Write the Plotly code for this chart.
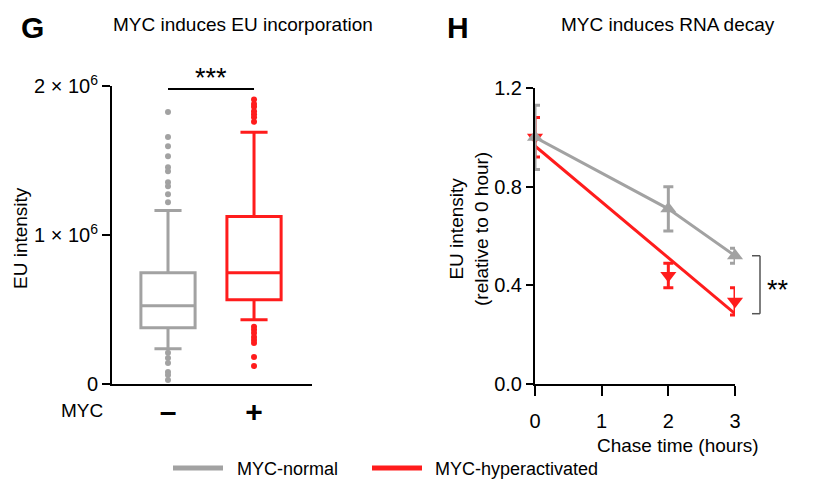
import plotly.graph_objects as go

# ---------------- data ----------------
# Panel G: EU intensity box plots
myc_groups = ["–", "+"]
myc_ticktext = ["<b>–</b>", "<b>+</b>"]
box_q1 = [0.377e6, 0.566e6]
box_median = [0.525e6, 0.747e6]
box_q3 = [0.747e6, 1.125e6]
box_lowerfence = [0.236e6, 0.431e6]
box_upperfence = [1.165e6, 1.69e6]
outliers_normal = [1.825e6, 1.657e6, 1.596e6, 1.529e6, 1.455e6, 1.428e6, 1.354e6,
                   1.327e6, 1.273e6, 1.219e6, 0.209e6, 0.175e6, 0.141e6, 0.081e6,
                   0.061e6, 0.027e6]
outliers_hyper = [1.91e6, 1.88e6, 1.86e6, 1.83e6, 1.81e6, 1.79e6, 1.76e6,
                  0.384e6, 0.364e6, 0.343e6, 0.316e6, 0.296e6, 0.276e6, 0.182e6, 0.121e6]
g_sig_level = 1.98e6

# Panel H: RNA decay
chase_time = [0, 2, 3]
normal_mean = [1.00, 0.71, 0.52]
normal_err = [0.13, 0.09, 0.03]
hyper_mean = [1.00, 0.44, 0.335]
hyper_err = [0.08, 0.05, 0.055]
hyper_fit_time = [0, 3]
hyper_fit = [0.965, 0.285]

left_yticks = [0, 1e6, 2e6]
left_yticktext = ["0", "1 × 10<sup>6</sup>", "2 × 10<sup>6</sup>"]
right_yticks = [0.0, 0.4, 0.8, 1.2]
right_xticks = [0, 1, 2, 3]
right_yrange = [0, 1.2]

GRAY = "#a2a2a2"
RED = "#ff1c1c"
FONT = "Arial, Liberation Sans, Helvetica, sans-serif"
OFF = 8  # the page body margin that the browser adds around the figure
W, H = 827 - OFF, 489 - OFF


def xp(px):
    return (px - OFF) / W


def yp(py):
    return 1 - (py - OFF) / H


fig = go.Figure()

# ---- Panel G ----
colors = [GRAY, RED]
for i, g in enumerate(myc_groups):
    fig.add_trace(go.Box(
        x=[g], q1=[box_q1[i]], median=[box_median[i]], q3=[box_q3[i]],
        lowerfence=[box_lowerfence[i]], upperfence=[box_upperfence[i]],
        line=dict(color=colors[i], width=3), fillcolor="rgba(255,255,255,0)",
        width=0.63, whiskerwidth=0.5, boxpoints=False, showlegend=False,
        xaxis="x", yaxis="y", hoverinfo="skip"))

fig.add_trace(go.Scatter(x=[myc_groups[0]] * len(outliers_normal), y=outliers_normal,
                         mode="markers", marker=dict(color=GRAY, size=6),
                         showlegend=False, cliponaxis=False, xaxis="x", yaxis="y"))
fig.add_trace(go.Scatter(x=[myc_groups[1]] * len(outliers_hyper), y=outliers_hyper,
                         mode="markers", marker=dict(color=RED, size=6),
                         showlegend=False, cliponaxis=False, xaxis="x", yaxis="y"))

# ---- Panel H ----
fig.add_trace(go.Scatter(x=hyper_fit_time, y=hyper_fit, mode="lines",
                         line=dict(color=RED, width=3), showlegend=False,
                         cliponaxis=False, xaxis="x2", yaxis="y2"))
fig.add_trace(go.Scatter(x=chase_time, y=hyper_mean, mode="markers",
                         marker=dict(color=RED, size=14, symbol="triangle-down"),
                         error_y=dict(type="data", array=hyper_err, color=RED,
                                      thickness=3, width=5),
                         showlegend=False, cliponaxis=False, xaxis="x2", yaxis="y2"))
fig.add_trace(go.Scatter(x=chase_time, y=normal_mean, mode="lines+markers",
                         line=dict(color=GRAY, width=3),
                         marker=dict(color=GRAY, size=14, symbol="triangle-up"),
                         error_y=dict(type="data", array=normal_err, color=GRAY,
                                      thickness=3, width=5),
                         showlegend=False, cliponaxis=False, xaxis="x2", yaxis="y2"))

axis_common = dict(showgrid=False, zeroline=False, showline=True, linecolor="black",
                   linewidth=2, ticks="outside", tickcolor="black", tickwidth=2,
                   automargin=False)
tick20 = dict(family=FONT, size=20, color="black")
y2_domain = [yp(384), yp(88)]

fig.update_layout(
    width=W, height=H, autosize=False,
    margin=dict(l=0, r=0, t=0, b=0, pad=0),
    paper_bgcolor="white", plot_bgcolor="white",
    boxmode="overlay",
    font=dict(family=FONT, color="black"),
    xaxis=dict(domain=[xp(112), xp(312)], anchor="y", type="category",
               categoryorder="array", categoryarray=myc_groups,
               tickvals=myc_groups, ticktext=myc_ticktext,
               range=[-0.651, 1.674], showgrid=False, zeroline=False, showline=True,
               linecolor="black", linewidth=2, ticks="", automargin=False,
               tickfont=dict(family=FONT, size=30, color="black"),
               ticklabelstandoff=0),
    yaxis=dict(domain=[yp(384), yp(86)], anchor="x", range=[0, 2e6],
               tickvals=left_yticks, ticktext=left_yticktext, ticklen=8,
               tickfont=tick20, **axis_common),
    xaxis2=dict(domain=[xp(535), xp(735)], anchor="y2", range=[0, 3],
                tickvals=right_xticks, ticklen=10, ticklabelstandoff=8,
                tickfont=tick20, **axis_common),
    yaxis2=dict(domain=y2_domain, anchor="x2", range=right_yrange,
                tickvals=right_yticks, tickformat=".1f", ticklen=7,
                tickfont=tick20, **axis_common),
)


def y2_paper(v):
    return y2_domain[0] + (v - right_yrange[0]) / (right_yrange[1] - right_yrange[0]) * (
        y2_domain[1] - y2_domain[0])


shapes = []
# significance bar panel G
shapes.append(dict(type="line", xref="x", yref="y", x0=0, x1=1,
                   y0=g_sig_level, y1=g_sig_level, line=dict(color="black", width=2)))
# bracket panel H (between the last gray mean and the end of the red fit)
bx0, bx1 = xp(752), xp(760)
ytop, ybot = y2_paper(normal_mean[-1]), y2_paper(hyper_fit[-1])
for (a, b, c, d) in [(bx0, bx1, ytop, ytop), (bx1, bx1, ytop, ybot), (bx0, bx1, ybot, ybot)]:
    shapes.append(dict(type="line", xref="paper", yref="paper", x0=a, x1=b, y0=c, y1=d,
                       line=dict(color="#555555", width=1.5)))
# legend swatches
shapes.append(dict(type="line", xref="paper", yref="paper", x0=xp(173), x1=xp(223),
                   y0=yp(468), y1=yp(468), line=dict(color=GRAY, width=5)))
shapes.append(dict(type="line", xref="paper", yref="paper", x0=xp(372), x1=xp(422),
                   y0=yp(468), y1=yp(468), line=dict(color=RED, width=5)))
fig.update_layout(shapes=shapes)

ann = []


def txt(text, x, y, size=19, bold=False, xanchor="center", angle=0, **kw):
    if bold:
        text = "<b>" + text + "</b>"
    ann.append(dict(text=text, x=xp(x), y=yp(y), xref="paper", yref="paper",
                    showarrow=False, xanchor=xanchor, yanchor="middle", textangle=angle,
                    font=dict(family=FONT, size=size, color="black"), **kw))


txt("G", 32, 27, size=30, bold=True)
txt("H", 458, 27, size=30, bold=True)
txt("MYC induces EU incorporation", 243, 24)
txt("MYC induces RNA decay", 668, 24)
txt("EU intensity", 20, 238, angle=-90)
txt("EU intensity<br>(relative to 0 hour)", 469, 229, angle=-90)
txt("MYC", 82, 410)
txt("Chase time (hours)", 678, 445)
txt("MYC-normal", 235, 469, xanchor="left", size=18)
txt("MYC-hyperactivated", 433, 469, xanchor="left", size=18)
txt("***", 211, 78, size=27)
txt("**", 778, 290, size=27)
fig.update_layout(annotations=ann)

fig.write_html("out.html")
